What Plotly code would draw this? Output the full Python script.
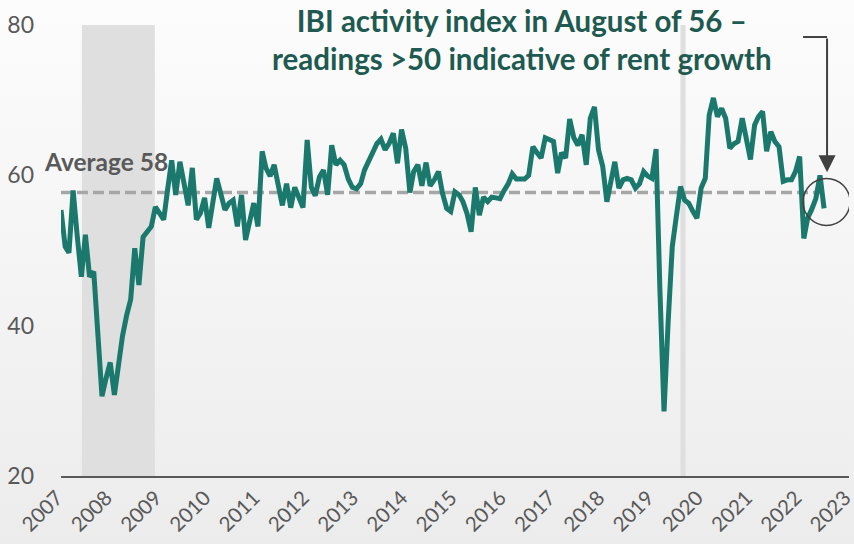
import base64
import pandas as pd
import plotly.graph_objects as go

# ---- data ----
start_month = "2007-01-01"
ibi_values = [
    55.4, 50.5, 49.7, 58.0, 52.0, 46.5, 52.1, 46.5, 47.2, 39.0,
    30.6, 33.0, 35.1, 30.8, 35.0, 38.6, 41.3, 43.5, 50.3, 45.4,
    51.8, 52.5, 53.2, 55.8, 55.0, 54.1, 58.0, 62.0, 57.4, 61.8,
    59.0, 56.0, 61.0, 54.1, 55.0, 57.0, 53.0, 56.5, 59.6, 57.5,
    55.4, 56.3, 56.7, 53.2, 57.4, 51.4, 54.0, 56.3, 53.2, 63.2,
    61.0, 59.9, 61.4, 58.5, 56.0, 58.9, 55.7, 58.4, 57.0, 55.7,
    64.7, 58.4, 57.3, 59.8, 60.7, 57.4, 64.0, 61.4, 62.0, 61.4,
    59.5, 58.4, 58.2, 58.9, 60.7, 61.8, 63.2, 64.2, 64.8, 63.4,
    64.3, 65.6, 61.6, 66.1, 63.6, 57.7, 60.5, 61.4, 58.6, 61.7,
    58.6, 59.4, 60.5, 57.6, 55.6, 55.2, 57.8, 57.4, 56.5, 54.9,
    52.5, 58.4, 54.7, 57.1, 56.5, 57.1, 57.0, 56.9, 58.0, 58.9,
    60.2, 59.5, 59.5, 59.5, 60.0, 63.8, 63.0, 62.3, 65.0, 64.8,
    64.5, 60.3, 63.0, 62.3, 67.5, 65.0, 64.0, 65.4, 61.4, 67.6,
    69.1, 63.4, 61.2, 56.5, 59.2, 61.8, 58.3, 59.4, 59.6, 59.4,
    58.3, 58.9, 60.5, 59.9, 59.6, 63.5, 45.0, 28.6, 40.3, 50.5,
    54.5, 58.5, 56.7, 56.3, 55.2, 54.3, 58.3, 59.6, 68.0, 70.3,
    67.8, 68.9, 67.6, 63.6, 64.2, 64.5, 67.6, 64.5, 62.1, 66.7,
    67.8, 68.5, 63.2, 65.8, 64.5, 63.8, 59.2, 59.4, 59.4, 60.5,
    62.5, 51.6, 54.3, 55.5, 56.9, 60.0, 55.6,
]
average_value = 57.7
average_label = "Average 58"
year_ticks = list(range(2007, 2024))
recessions = [("2007-06-05", "2008-11-27"), ("2019-08-01", "2019-09-08")]
title_lines = ["IBI activity index in August of 56 –",
               "readings >50 indicative of rent growth"]

dates = pd.date_range(start_month, periods=len(ibi_values), freq="MS")

# ---- style ----
TEAL = "#1b786c"
GREY_TXT = "#595959"
FONT = "Lato"
W, H = 854, 544
ML, MR, MT, MB = 61, 5, 25, 68
PW, PH = W - ML - MR, H - MT - MB

fig = go.Figure()

fig.add_trace(go.Scatter(
    x=[dates[0], dates[-1]], y=[average_value, average_value],
    mode="lines", line=dict(color="#a6a6a6", width=3.5, dash="11px,5px"),
    hoverinfo="skip", showlegend=False))

fig.add_trace(go.Scatter(
    x=dates, y=ibi_values, mode="lines",
    line=dict(color=TEAL, width=5, shape="linear"),
    showlegend=False))

shapes = []
for a, b in recessions:
    shapes.append(dict(type="rect", xref="x", yref="y", x0=a, x1=b, y0=20, y1=80,
                       fillcolor="#dfdfdf", line=dict(width=0), layer="below"))

# circle around the latest reading
shapes.append(dict(type="circle", xref="x", yref="y",
                   xsizemode="pixel", ysizemode="pixel",
                   xanchor=dates[-1], yanchor=ibi_values[-1],
                   x0=-21, x1=26, y0=-17, y1=30,
                   line=dict(color="#404040", width=1.5)))
# horizontal part of elbow arrow
shapes.append(dict(type="line", xref="x", yref="y",
                   xsizemode="pixel", xanchor=dates[-1],
                   x0=-21, x1=3, y0=78.4, y1=78.4,
                   line=dict(color="#404040", width=2)))

svg = ('<svg xmlns="http://www.w3.org/2000/svg" width="854" height="544">'
       '<defs><linearGradient id="g" x1="0" y1="0" x2="0" y2="1">'
       '<stop offset="0" stop-color="#fcfcfc"/><stop offset="1" stop-color="#ececec"/>'
       '</linearGradient></defs><rect width="854" height="544" fill="url(#g)"/></svg>')
src = "data:image/svg+xml;base64," + base64.b64encode(svg.encode()).decode()

annotations = [
    dict(xref="paper", yref="paper", x=(522 - ML) / PW, y=(476 - 40) / PH,
         xanchor="center", yanchor="middle", showarrow=False,
         text="<b>" + "<br>".join(title_lines) + "</b>",
         font=dict(family=FONT, size=29.5, color="#1e5a50"), align="center"),
    dict(xref="paper", yref="y", x=(42 - ML) / PW, y=61.8,
         xanchor="left", yanchor="middle", showarrow=False,
         text="<b>" + average_label + "</b>",
         font=dict(family=FONT, size=24.5, color=GREY_TXT)),
    dict(xref="x", yref="y", x=dates[-1], y=60.4, xshift=3,
         axref="x", ayref="y", ax=dates[-1], ay=78.4,
         showarrow=True, arrowhead=2, arrowsize=1.7, arrowwidth=2,
         arrowcolor="#404040", text=""),
]

fig.update_layout(
    width=W, height=H,
    margin=dict(l=ML, r=MR, t=MT, b=MB, autoexpand=False),
    paper_bgcolor="#f5f5f5", plot_bgcolor="rgba(0,0,0,0)",
    font=dict(family=FONT, color=GREY_TXT),
    shapes=shapes, annotations=annotations,
    images=[dict(source=src, xref="paper", yref="paper",
                 x=-ML / PW, y=1 + MT / PH, sizex=W / PW, sizey=H / PH,
                 sizing="stretch", xanchor="left", yanchor="top",
                 layer="below")],
    xaxis=dict(type="date", range=["2007-01-01", "2023-01-02"],
               tickvals=[f"{y}-01-01" for y in year_ticks],
               ticktext=[str(y) for y in year_ticks],
               tickangle=-45, tickfont=dict(size=20.5, color=GREY_TXT),
               ticklabeloverflow="allow", ticklabelshift=-4,
               showgrid=False, zeroline=False, showline=True, automargin=False,
               linecolor="#595959", linewidth=1.5, ticks=""),
    yaxis=dict(range=[20, 80], tickvals=[20, 40, 60, 80],
               tickfont=dict(size=23, color=GREY_TXT), automargin=False,
               showgrid=False, zeroline=False, showline=False,
               ticks="", ticklabelstandoff=26),
)

fig.write_html("out.html", config={"displayModeBar": False},
               post_script="document.body.style.margin='0';")
